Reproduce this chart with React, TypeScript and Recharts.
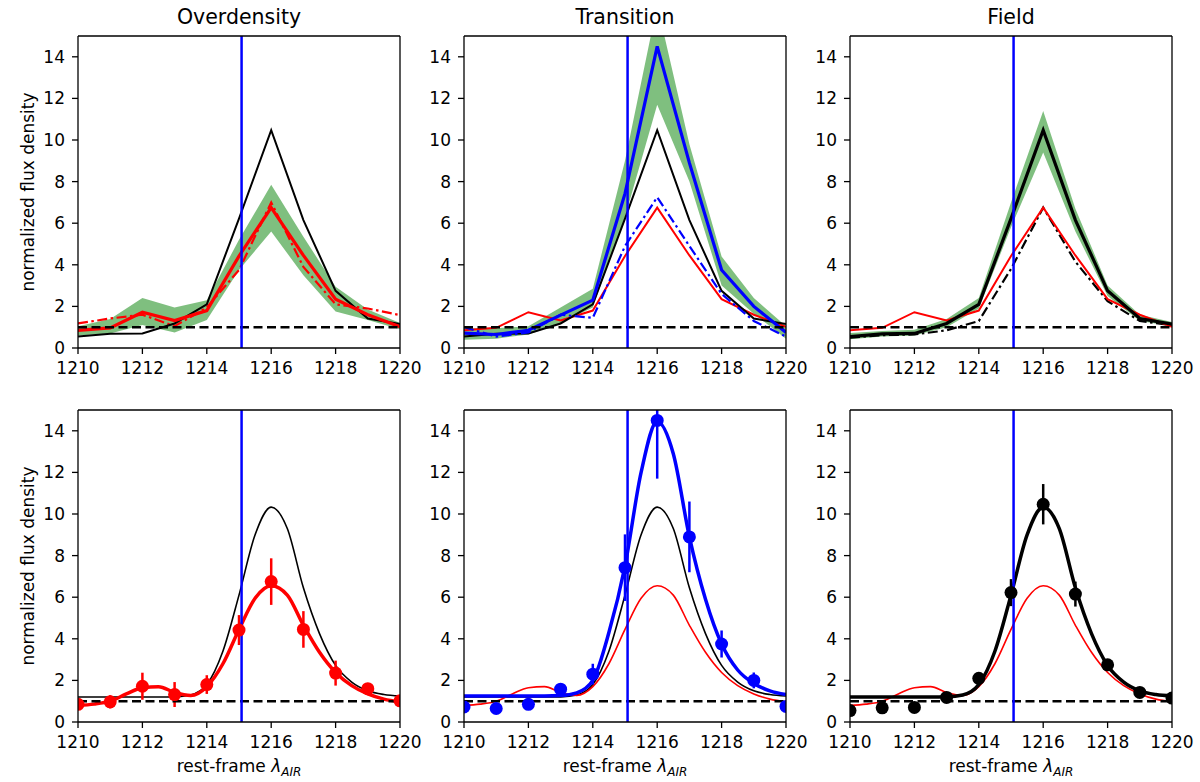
import * as React from "react";
import {
  ComposedChart,
  Line,
  Area,
  Scatter,
  ErrorBar,
  XAxis,
  YAxis,
  ReferenceLine,
} from "recharts";

// ── Data ───────────────────────────────────────────────────────────────
const WAVE = [1210, 1211, 1212, 1213, 1214, 1215, 1216, 1217, 1218, 1219, 1220];

// stacked spectra (top row lines, bottom row points)
const OVER_STACK = [0.85, 0.97, 1.72, 1.32, 1.8, 4.42, 6.75, 4.45, 2.35, 1.6, 1.02];
const TRANS_STACK = [0.72, 0.65, 0.85, 1.58, 2.3, 7.42, 14.5, 8.9, 3.75, 2.0, 0.75];
const FIELD_STACK = [0.55, 0.68, 0.7, 1.18, 2.1, 6.22, 10.47, 6.15, 2.75, 1.42, 1.15];

// alternative stacks (dash-dot)
const OVER_ALT = [1.18, 1.42, 1.6, 1.05, 1.95, 3.75, 7.0, 3.9, 2.1, 1.9, 1.58];
const TRANS_ALT = [1.0, 0.55, 0.75, 1.6, 1.45, 4.9, 7.25, 4.9, 2.6, 1.3, 0.55];
const FIELD_ALT = [0.5, 0.62, 0.65, 0.85, 1.3, 3.8, 6.75, 4.15, 2.25, 1.3, 1.1];

// bootstrap bands
const OVER_LO = [0.6, 0.7, 1.1, 0.75, 1.35, 3.75, 5.6, 3.5, 1.75, 1.35, 0.9];
const OVER_HI = [1.05, 1.4, 2.4, 1.95, 2.3, 5.2, 7.85, 5.35, 2.95, 1.85, 1.2];
const TRANS_LO = [0.4, 0.45, 0.65, 1.2, 1.95, 6.3, 11.7, 8.0, 3.0, 1.65, 0.45];
const TRANS_HI = [0.95, 0.95, 1.05, 1.95, 2.85, 9.0, 16.5, 9.8, 4.4, 2.4, 1.05];
const FIELD_LO = [0.42, 0.55, 0.6, 1.0, 1.9, 5.8, 9.4, 5.6, 2.5, 1.3, 1.05];
const FIELD_HI = [0.72, 0.82, 0.88, 1.4, 2.4, 7.0, 11.4, 6.7, 3.0, 1.6, 1.25];

// error bars (half length)
const OVER_ERR = [0.15, 0.32, 0.65, 0.6, 0.45, 0.72, 1.12, 0.88, 0.6, 0.12, 0.1];
const TRANS_ERR = [0.1, 0.1, 0.1, 0.25, 0.5, 1.6, 2.8, 1.7, 0.65, 0.38, 0.1];
const FIELD_ERR = [0.1, 0.1, 0.1, 0.1, 0.2, 0.65, 0.97, 0.6, 0.15, 0.1, 0.1];

const FIT_WAVE = [
  1210, 1210.5, 1211, 1211.5, 1212, 1212.5, 1213, 1213.5, 1214, 1214.5, 1215,
  1215.5, 1216, 1216.5, 1217, 1217.5, 1218, 1218.5, 1219, 1219.5, 1220,
];
const OVER_FIT = [0.8, 0.86, 1.0, 1.35, 1.65, 1.7, 1.42, 1.28, 1.7, 2.8, 4.45, 5.95, 6.55, 6.1, 4.65, 3.35, 2.38, 1.75, 1.35, 1.1, 0.97];
const TRANS_FIT = [1.25, 1.25, 1.25, 1.25, 1.25, 1.25, 1.27, 1.4, 2.0, 4.3, 7.5, 12.0, 14.45, 12.9, 8.9, 5.9, 3.75, 2.5, 1.85, 1.5, 1.32];
const FIELD_FIT = [1.2, 1.2, 1.2, 1.2, 1.2, 1.2, 1.21, 1.3, 1.8, 3.4, 6.1, 9.0, 10.33, 9.3, 6.45, 4.25, 2.72, 1.92, 1.5, 1.32, 1.25];

const X_TICKS = [1210, 1212, 1214, 1216, 1218, 1220];
const Y_TICKS = [0, 2, 4, 6, 8, 10, 12, 14];
const X_DOMAIN = [1210, 1220];
const Y_DOMAIN = [0, 15];
const LYA_X = 1215.08;
const TITLES = ["Overdensity", "Transition", "Field"];

// ── Tables ─────────────────────────────────────────────────────────────
const stackRows = WAVE.map((x, i) => ({
  x,
  over: OVER_STACK[i],
  trans: TRANS_STACK[i],
  field: FIELD_STACK[i],
  overAlt: OVER_ALT[i],
  transAlt: TRANS_ALT[i],
  fieldAlt: FIELD_ALT[i],
  overBand: [OVER_LO[i], OVER_HI[i]],
  transBand: [TRANS_LO[i], TRANS_HI[i]],
  fieldBand: [FIELD_LO[i], FIELD_HI[i]],
}));

const fitRows = FIT_WAVE.map((x, i) => ({
  x,
  over: OVER_FIT[i],
  trans: TRANS_FIT[i],
  field: FIELD_FIT[i],
}));

const points = (vals: number[], errs: number[]) =>
  WAVE.map((x, i) => ({ x, y: vals[i], err: errs[i] }));

const overPts = points(OVER_STACK, OVER_ERR);
const transPts = points(TRANS_STACK, TRANS_ERR);
const fieldPts = points(FIELD_STACK, FIELD_ERR);

// ── Styling ────────────────────────────────────────────────────────────
const FONT = "'DejaVu Sans', sans-serif";
const RED = "#ff0000";
const BLUE = "#0000ff";
const BLACK = "#000000";
const GREEN = "#008000";
const DASHDOT = "10 3.5 2.5 3.5";
const PLOT_LEFT = [78, 464, 850];
const PLOT_W = 322;
const PLOT_H = 312;
const AXIS_W = 78;
const TOP_M = 36;

const dot = (color: string) => (p: any) =>
  <circle cx={p.cx} cy={p.cy} r={6.5} fill={color} />;

function XLabel({ viewBox }: any) {
  const cx = viewBox.x + viewBox.width / 2;
  const y = viewBox.y + 50;
  return (
    <text x={cx} y={y} textAnchor="middle" fontSize={17} fontFamily={FONT} fill={BLACK}>
      rest-frame <tspan fontStyle="italic">λ</tspan>
      <tspan fontStyle="italic" fontSize={12} dy={4}>AIR</tspan>
    </text>
  );
}

function YLabel({ viewBox }: any) {
  const cx = viewBox.x + 28;
  const cy = viewBox.y + viewBox.height / 2;
  return (
    <text
      x={cx}
      y={cy}
      textAnchor="middle"
      dominantBaseline="central"
      fontSize={17}
      fontFamily={FONT}
      fill={BLACK}
      transform={`rotate(-90, ${cx}, ${cy})`}
    >
      normalized flux density
    </text>
  );
}

const titleLabel = (title: string) => ({ viewBox }: any) => (
  <text
    x={viewBox.x + viewBox.width / 2}
    y={viewBox.y - 12}
    textAnchor="middle"
    fontSize={20.5}
    fontFamily={FONT}
    fill={BLACK}
  >
    {title}
  </text>
);

// ── Panel ──────────────────────────────────────────────────────────────
// inner chart: series, clipped to the plot box by its div
// outer chart: axes, frame and labels drawn on top
function Panel({ row, col, data, children }: any) {
  const top = row === 0 ? 0 : 374;
  const height = row === 0 ? 390 : 408;
  const xHeight = row === 0 ? 30 : 60;
  const axisStyle = { stroke: BLACK, strokeWidth: 1.3 };
  return (
    <div style={{ position: "absolute", left: PLOT_LEFT[col] - AXIS_W, top }}>
      <div
        style={{
          position: "absolute",
          left: AXIS_W,
          top: TOP_M,
          width: PLOT_W,
          height: PLOT_H,
          overflow: "hidden",
        }}
      >
        <ComposedChart
          width={PLOT_W}
          height={PLOT_H}
          data={data}
          margin={{ top: 0, right: 0, left: 0, bottom: 0 }}
        >
          <XAxis dataKey="x" type="number" domain={X_DOMAIN} allowDataOverflow hide />
          <YAxis type="number" domain={Y_DOMAIN} allowDataOverflow hide />
          {children}
          <ReferenceLine y={1} stroke={BLACK} strokeWidth={2.5} strokeDasharray="9 4.5" />
          <ReferenceLine x={LYA_X} stroke={BLUE} strokeWidth={2.5} />
        </ComposedChart>
      </div>
      <div style={{ position: "absolute", left: 0, top: 0 }}>
        <ComposedChart
          width={AXIS_W + PLOT_W + 40}
          height={height}
          data={data}
          margin={{ top: TOP_M, right: 40, left: 0, bottom: height - TOP_M - PLOT_H - xHeight }}
        >
          <XAxis
            dataKey="x"
            type="number"
            domain={X_DOMAIN}
            ticks={X_TICKS}
            interval={0}
            allowDataOverflow
            height={xHeight}
            tick={{ fontSize: 17, fill: BLACK, fontFamily: FONT }}
            tickSize={6}
            tickMargin={8}
            axisLine={axisStyle}
            tickLine={axisStyle}
            label={row === 1 ? <XLabel /> : undefined}
          />
          <YAxis
            type="number"
            domain={Y_DOMAIN}
            ticks={Y_TICKS}
            interval={0}
            allowDataOverflow
            width={AXIS_W}
            tick={{ fontSize: 17, fill: BLACK, fontFamily: FONT }}
            tickSize={6}
            tickMargin={7}
            axisLine={axisStyle}
            tickLine={axisStyle}
            label={col === 0 ? <YLabel /> : undefined}
          />
          <ReferenceLine
            y={15}
            stroke={BLACK}
            strokeWidth={1.3}
            label={row === 0 ? titleLabel(TITLES[col]) : undefined}
          />
          <ReferenceLine x={1220} stroke={BLACK} strokeWidth={1.3} />
        </ComposedChart>
      </div>
    </div>
  );
}

const band = (key: string) => (
  <Area
    key={key}
    dataKey={key}
    type="linear"
    stroke="none"
    fill={GREEN}
    fillOpacity={0.5}
    isAnimationActive={false}
    activeDot={false}
  />
);

const line = (key: string, color: string, width: number, dash?: string, type = "linear") => (
  <Line
    key={key + color + width + (dash || "")}
    dataKey={key}
    type={type as any}
    stroke={color}
    strokeWidth={width}
    strokeDasharray={dash}
    dot={false}
    activeDot={false}
    isAnimationActive={false}
  />
);

const scatter = (pts: any[], color: string) => (
  <Scatter
    key={"pts" + color}
    data={pts}
    dataKey="y"
    fill={color}
    shape={dot(color)}
    isAnimationActive={false}
  >
    <ErrorBar dataKey="err" direction="y" width={0} stroke={color} strokeWidth={2.5} />
  </Scatter>
);

// ── App ────────────────────────────────────────────────────────────────
export default function App() {
  return (
    <div
      style={{
        position: "absolute",
        left: 0,
        top: 0,
        width: 1200,
        height: 782,
        background: "#fff",
        fontFamily: FONT,
      }}
    >
      <Panel row={0} col={0} data={stackRows}>
        {[
          band("overBand"),
          line("overAlt", RED, 2.2, DASHDOT),
          line("field", BLACK, 2),
          line("over", RED, 3.2),
        ]}
      </Panel>
      <Panel row={0} col={1} data={stackRows}>
        {[
          band("transBand"),
          line("over", RED, 2),
          line("field", BLACK, 2),
          line("transAlt", BLUE, 2.2, DASHDOT),
          line("trans", BLUE, 3.2),
        ]}
      </Panel>
      <Panel row={0} col={2} data={stackRows}>
        {[
          band("fieldBand"),
          line("fieldAlt", BLACK, 2.2, DASHDOT),
          line("over", RED, 2),
          line("field", BLACK, 3.2),
        ]}
      </Panel>
      <Panel row={1} col={0} data={fitRows}>
        {[
          line("field", BLACK, 1.6, undefined, "monotone"),
          line("over", RED, 3.5, undefined, "monotone"),
          scatter(overPts, RED),
        ]}
      </Panel>
      <Panel row={1} col={1} data={fitRows}>
        {[
          line("field", BLACK, 1.6, undefined, "monotone"),
          line("over", RED, 1.6, undefined, "monotone"),
          line("trans", BLUE, 3.5, undefined, "monotone"),
          scatter(transPts, BLUE),
        ]}
      </Panel>
      <Panel row={1} col={2} data={fitRows}>
        {[
          line("over", RED, 1.6, undefined, "monotone"),
          line("field", BLACK, 3.5, undefined, "monotone"),
          scatter(fieldPts, BLACK),
        ]}
      </Panel>
    </div>
  );
}
